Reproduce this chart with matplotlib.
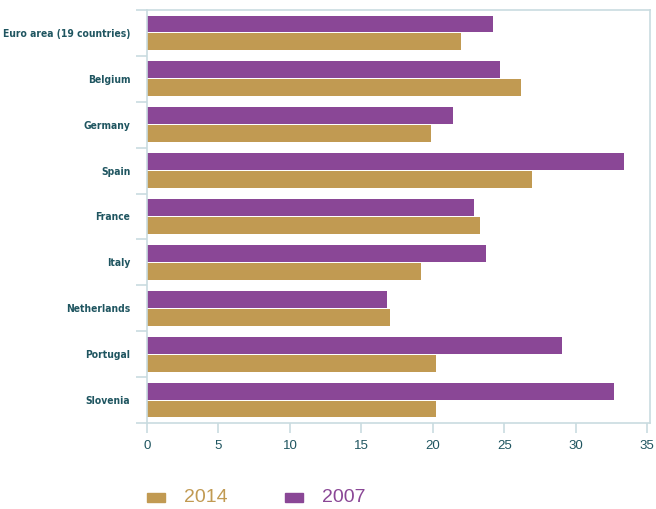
import numpy as np
import matplotlib

matplotlib.use("Agg")
import matplotlib.pyplot as plt
from matplotlib import font_manager
from matplotlib.patches import Rectangle

countries = [
    "Euro area (19 countries)",
    "Belgium",
    "Germany",
    "Spain",
    "France",
    "Italy",
    "Netherlands",
    "Portugal",
    "Slovenia",
]
values_2007 = [24.2, 24.7, 21.4, 33.4, 22.9, 23.7, 16.8, 29.0, 32.7]
values_2014 = [22.0, 26.2, 19.9, 26.9, 23.3, 19.2, 17.0, 20.2, 20.2]
x_ticks = [0, 5, 10, 15, 20, 25, 30, 35]

PURPLE = "#8A4796"
GOLD = "#C19A52"
FRAME = "#C9DCE0"
TEXT = "#1F5560"

plt.rcParams["font.family"] = ["Liberation Sans", "DejaVu Sans"]

# use a condensed face for the category labels when one is installed
condensed = [f.fname for f in font_manager.fontManager.ttflist
             if "condensed" in str(f.stretch).lower() or "Condensed" in f.fname or "Narrow" in f.fname]
label_font = None
for path in condensed:
    if "Bold" in path and "Oblique" not in path and "Italic" not in path:
        label_font = font_manager.FontProperties(fname=path, size=7.4)
        break
if label_font is None:
    label_font = font_manager.FontProperties(family="Liberation Sans", weight="bold", size=8.0)

fig = plt.figure(figsize=(6.56, 5.09), dpi=100)
ax = fig.add_axes([147 / 656, 86 / 509, 503 / 656, 413 / 509])

y = np.arange(len(countries))
h = 0.37
ax.barh(y - h / 2 - 0.01, values_2007, height=h, color=PURPLE)
ax.barh(y + h / 2 + 0.01, values_2014, height=h, color=GOLD)

ax.set_ylim(len(countries) - 0.5, -0.5)
ax.set_xlim(0, 35.19)

ax.set_yticks(y)
ax.set_yticklabels(countries, fontproperties=label_font, color=TEXT)
ax.set_yticks(np.arange(len(countries) + 1) - 0.5, minor=True)
ax.tick_params(axis="y", which="major", length=0, pad=12)
ax.tick_params(axis="y", which="minor", length=8, width=1.2, color=FRAME)

ax.set_xticks(x_ticks)
ax.set_xticklabels([str(t) for t in x_ticks], fontsize=9.5, color=TEXT)
ax.tick_params(axis="x", length=7, width=1.2, color=FRAME, pad=5)

for side in ["top", "bottom", "left", "right"]:
    ax.spines[side].set_color(FRAME)
    ax.spines[side].set_linewidth(1.2)

# legend drawn in figure coordinates
fig.patches.append(Rectangle((147 / 656, 1 - 502 / 509), 18 / 656, 9 / 509,
                             transform=fig.transFigure, color=GOLD))
fig.text(184 / 656, 1 - 497 / 509, "2014", fontsize=14, color=GOLD, va="center")
fig.patches.append(Rectangle((285 / 656, 1 - 502 / 509), 18 / 656, 9 / 509,
                             transform=fig.transFigure, color=PURPLE))
fig.text(322 / 656, 1 - 497 / 509, "2007", fontsize=14, color=PURPLE, va="center")

fig.savefig("out.png", dpi=100)
